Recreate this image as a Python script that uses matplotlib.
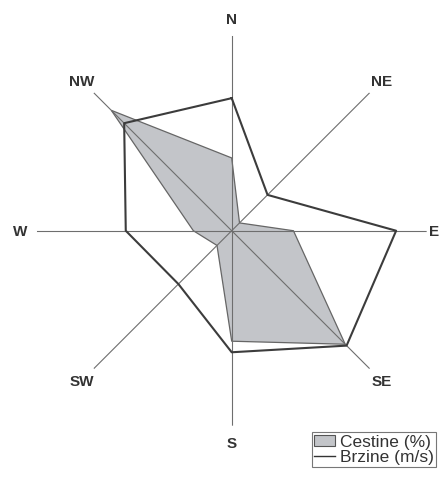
import numpy as np
import matplotlib
matplotlib.use("Agg")
import matplotlib.pyplot as plt
from matplotlib.patches import Patch
from matplotlib.lines import Line2D

directions = ["N", "NE", "E", "SE", "S", "SW", "W", "NW"]
cestine = [11.2, 1.7, 9.5, 24.7, 17.0, 3.2, 5.9, 26.2]      # %
brzine = [2.04, 0.78, 2.53, 2.50, 1.87, 1.16, 1.63, 2.34]   # m/s
rmax_c = 30.0
rmax_b = 3.0

plt.rcParams['font.family'] = ['Liberation Sans', 'DejaVu Sans']

fig = plt.figure(figsize=(4.41, 4.85), dpi=100)
rect = [0.0832, 0.1202, 0.8844, 0.804]
ax = fig.add_axes(rect, projection='polar')
ax2 = fig.add_axes(rect, projection='polar')

theta = np.deg2rad(np.arange(len(directions)) * 45.0)

for a, rm in ((ax, rmax_c), (ax2, rmax_b)):
    a.set_theta_zero_location('N')
    a.set_theta_direction(-1)
    a.set_ylim(0, rm)
    a.grid(False)
    a.set_xticks([])
    a.set_yticks([])
    a.spines['polar'].set_visible(False)
ax2.patch.set_alpha(0)

tc = np.append(theta, theta[0])
cc = np.append(cestine, cestine[0])
ax.fill(tc, cc, facecolor='#c3c5c9', edgecolor='#666666', linewidth=0.9, zorder=2)

for t in theta:
    ax.plot([t, t], [0, rmax_c], color='#6e6e6e', linewidth=0.8, zorder=3)

for t, lab in zip(theta, directions):
    if lab == "E":
        ax.text(t, rmax_c * 1.063, lab, ha='right', va='center',
                fontsize=11, fontweight='bold', color='#333333')
    else:
        ax.text(t, rmax_c * 1.087, lab, ha='center', va='center',
                fontsize=11, fontweight='bold', color='#333333')

bb = np.append(brzine, brzine[0])
ax2.plot(tc, bb, color='#3c3c3c', linewidth=1.5, zorder=4)

handles = [Patch(facecolor='#c3c5c9', edgecolor='#555555', linewidth=0.8),
           Line2D([0], [0], color='#333333', linewidth=1.0)]
leg = fig.legend(handles, ["Cestine (%)", "Brzine (m/s)"], loc='lower left',
                 bbox_to_anchor=(0.7075, 0.036), bbox_transform=fig.transFigure,
                 fontsize=12.5, frameon=True, fancybox=False, handlelength=1.2,
                 handleheight=0.6, handletextpad=0.3, borderpad=0.12,
                 labelspacing=0.0, borderaxespad=0)
leg.get_frame().set_edgecolor('#555555')
leg.get_frame().set_linewidth(0.8)
for t in leg.get_texts():
    t.set_color('#333333')

fig.savefig("out.png", dpi=100)
